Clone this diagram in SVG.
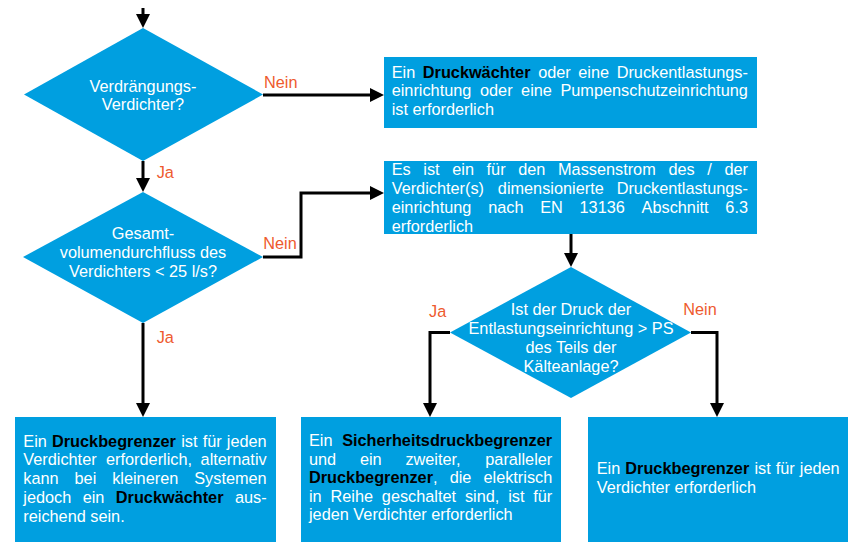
<svg xmlns="http://www.w3.org/2000/svg" width="853" height="546" viewBox="0 0 853 546">
<style>
.shape{fill:#009FE0}
text{font-family:"Liberation Sans",Arial,sans-serif;font-size:16.3px}
.w{fill:#FFFFFF}
.c{fill:#FFFFFF;text-anchor:middle}
.b{fill:#000000;font-weight:bold}
.lbl{fill:#EE5A2E}
.con{fill:none;stroke:#000000;stroke-width:3;stroke-linejoin:miter}
</style>
<defs>
<marker id="ah" markerUnits="userSpaceOnUse" markerWidth="14" markerHeight="14" refX="4" refY="7" orient="auto">
<path d="M0,0 L14,7 L0,14 Z" fill="#000000"/>
</marker>
</defs>
<rect width="853" height="546" fill="#FFFFFF"/>

<g id="d1">
<polygon class="shape" points="143,28 263,94.5 143,161 24,94.5"/>
<text class="c" x="143" y="92">Verdrängungs-</text>
<text class="c" x="143" y="110.3">Verdichter?</text>
</g>

<g id="d2">
<polygon class="shape" points="143,192 263,257 143,323 23,257"/>
<text class="c" x="143" y="239">Gesamt-</text>
<text class="c" x="143" y="257.8">volumendurchfluss des</text>
<text class="c" x="143" y="276.6">Verdichters &lt; 25 l/s?</text>
</g>

<g id="d3">
<polygon class="shape" points="571,267 691,332.5 571,398 450,332.5"/>
<text class="c" x="571" y="315">Ist der Druck der</text>
<text class="c" x="571" y="333.9">Entlastungseinrichtung &gt; PS</text>
<text class="c" x="571" y="352.8">des Teils der</text>
<text class="c" x="571" y="371.7">Kälteanlage?</text>
</g>

<g id="box1">
<rect class="shape" x="384" y="57" width="373" height="71"/>
<text class="w" y="77.5"><tspan x="391.7">Ein</tspan><tspan class="b" x="422.8">Druckwächter</tspan><tspan x="538.14">oder</tspan><tspan x="578.29">eine</tspan><tspan x="616.65">Druckentlastungs-</tspan></text>
<text class="w" y="96.2"><tspan x="391.7">einrichtung</tspan><tspan x="479.97">oder</tspan><tspan x="521.11">eine</tspan><tspan x="560.46">Pumpenschutzeinrichtung</tspan></text>
<text class="w" x="391.7" y="114.9">ist erforderlich</text>
</g>

<g id="box2">
<rect class="shape" x="384" y="161" width="373" height="73"/>
<text class="w" y="175"><tspan x="391.7">Es</tspan><tspan x="423.33">ist</tspan><tspan x="452.24">ein</tspan><tspan x="486.59">für</tspan><tspan x="518.22">den</tspan><tspan x="558.02">Massenstrom</tspan><tspan x="668.45">des</tspan><tspan x="707.33">/</tspan><tspan x="724.47">der</tspan></text>
<text class="w" y="194"><tspan x="391.7">Verdichter(s)</tspan><tspan x="497.83">dimensionierte</tspan><tspan x="616.65">Druckentlastungs-</tspan></text>
<text class="w" y="213"><tspan x="391.7">einrichtung</tspan><tspan x="488.15">nach</tspan><tspan x="540.21">EN</tspan><tspan x="579.57">13136</tspan><tspan x="641.6">Abschnitt</tspan><tspan x="725.36">6.3</tspan></text>
<text class="w" x="391.7" y="232">erforderlich</text>
</g>

<g id="box3">
<rect class="shape" x="15" y="417" width="261" height="125"/>
<text class="w" y="446.5"><tspan x="23.3">Ein</tspan><tspan class="b" x="51.99">Druckbegrenzer</tspan><tspan x="181.22">ist</tspan><tspan x="202.66">für</tspan><tspan x="226.82">jeden</tspan></text>
<text class="w" y="465.3"><tspan x="23.3">Verdichter</tspan><tspan x="106.06">erforderlich,</tspan><tspan x="200.58">alternativ</tspan></text>
<text class="w" y="484.1"><tspan x="23.3">kann</tspan><tspan x="74.55">bei</tspan><tspan x="112.2">kleineren</tspan><tspan x="194.24">Systemen</tspan></text>
<text class="w" y="502.9"><tspan x="23.3">jedoch</tspan><tspan x="82.7">ein</tspan><tspan class="b" x="115.82">Druckwächter</tspan><tspan x="234.99">aus-</tspan></text>
<text class="w" x="23.3" y="521.7">reichend sein.</text>
</g>

<g id="box4">
<rect class="shape" x="301" y="417" width="260" height="125"/>
<text class="w" y="446"><tspan x="309">Ein</tspan><tspan class="b" x="342.14">Sicherheitsdruckbegrenzer</tspan></text>
<text class="w" y="464.6"><tspan x="309">und</tspan><tspan x="359.92">ein</tspan><tspan x="405.39">zweiter,</tspan><tspan x="485.27">paralleler</tspan></text>
<text class="w" y="483.2"><tspan class="b" x="309">Druckbegrenzer</tspan><tspan>,</tspan><tspan x="449.67">die</tspan><tspan x="483.46">elektrisch</tspan></text>
<text class="w" y="501.8"><tspan x="309">in</tspan><tspan x="330.48">Reihe</tspan><tspan x="381.85">geschaltet</tspan><tspan x="464.95">sind,</tspan><tspan x="508.17">ist</tspan><tspan x="533.27">für</tspan></text>
<text class="w" x="309" y="520.4">jeden Verdichter erforderlich</text>
</g>

<g id="box5">
<rect class="shape" x="588" y="417" width="260" height="125"/>
<text class="w" y="474"><tspan x="596.7">Ein</tspan><tspan class="b" x="625.29">Druckbegrenzer</tspan><tspan x="754.42">ist</tspan><tspan x="775.76">für</tspan><tspan x="799.82">jeden</tspan></text>
<text class="w" x="596.7" y="492.5">Verdichter erforderlich</text>
</g>

<g id="connectors">
<path class="con" marker-end="url(#ah)" d="M143,8 L143,18"/>
<path class="con" marker-end="url(#ah)" d="M143,161 L143,182"/>
<path class="con" marker-end="url(#ah)" d="M263,95 L374,95"/>
<path class="con" marker-end="url(#ah)" d="M263,257 L301,257 L301,193 L374,193"/>
<path class="con" marker-end="url(#ah)" d="M143,323 L143,407"/>
<path class="con" marker-end="url(#ah)" d="M571,234 L571,257"/>
<path class="con" marker-end="url(#ah)" d="M450,332.5 L430,332.5 L430,407"/>
<path class="con" marker-end="url(#ah)" d="M691,332.5 L717,332.5 L717,407"/>
</g>

<g id="labels">
<text class="lbl" x="264" y="87.7">Nein</text>
<text class="lbl" x="263.3" y="249.3">Nein</text>
<text class="lbl" x="156.7" y="178">Ja</text>
<text class="lbl" x="156.7" y="342.7">Ja</text>
<text class="lbl" x="429" y="316.7">Ja</text>
<text class="lbl" x="683.3" y="315">Nein</text>
</g>
</svg>
